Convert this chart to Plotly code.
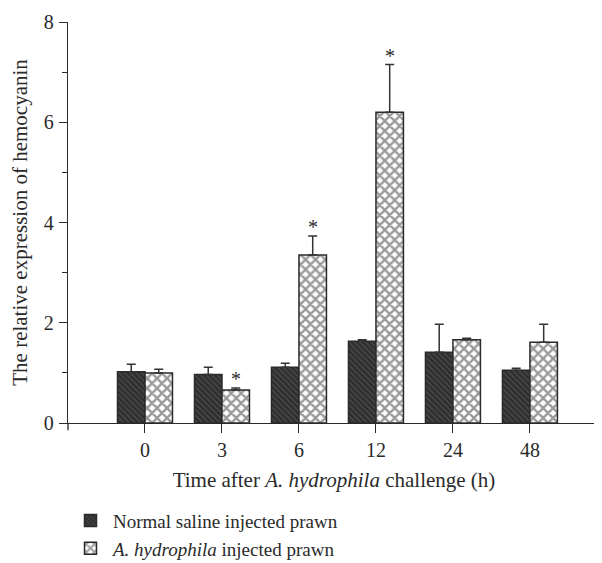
import plotly.graph_objects as go

times = ["0", "3", "6", "12", "24", "48"]
normal_vals = [1.02, 0.97, 1.11, 1.63, 1.41, 1.05]
normal_err = [0.15, 0.14, 0.08, 0.03, 0.56, 0.04]
hydro_vals = [1.00, 0.66, 3.35, 6.20, 1.66, 1.61]
hydro_err = [0.07, 0.04, 0.38, 0.95, 0.03, 0.36]
hydro_sig = [False, True, True, True, False, False]

FONT = "Liberation Serif"
INK = "#2a2a2a"

fig = go.Figure()
fig.add_trace(go.Bar(
    x=times, y=normal_vals, name="Normal saline injected prawn",
    marker=dict(color="#2e2e2e", line=dict(color=INK, width=1.5),
                pattern=dict(shape="\\", bgcolor="#2e2e2e", fgcolor="#6e6e6e",
                             size=4, solidity=0.3)),
    error_y=dict(type="data", array=normal_err, arrayminus=[0]*len(normal_err),
                 symmetric=False, color="#333", thickness=1.5, width=4.5),
))
fig.add_trace(go.Bar(
    x=times, y=hydro_vals, name="<i>A. hydrophila</i> injected prawn",
    marker=dict(color="white", line=dict(color=INK, width=1.5),
                pattern=dict(shape="x", bgcolor="white", fgcolor="#333333",
                             size=7, solidity=0.55)),
    error_y=dict(type="data", array=hydro_err, arrayminus=[0]*len(hydro_err),
                 symmetric=False, color="#333", thickness=1.5, width=4.5),
))

for i, (v, e, s) in enumerate(zip(hydro_vals, hydro_err, hydro_sig)):
    if s:
        fig.add_annotation(x=i, y=v + e, text="*", showarrow=False,
                           xshift=14, yshift=-4, yanchor="bottom",
                           font=dict(family=FONT, size=20, color=INK))

# small extension of the y axis line below zero
fig.add_shape(type="line", xref="paper", yref="paper", x0=0, x1=0, y0=0, y1=-0.018,
              line=dict(color=INK, width=1.3))

fig.update_layout(
    width=594, height=555,
    margin=dict(l=60, r=2, t=14, b=140, autoexpand=False),
    paper_bgcolor="white", plot_bgcolor="white",
    barmode="group", bargap=0.286, bargroupgap=0,
    font=dict(family=FONT, size=20, color=INK),
    showlegend=True,
    legend=dict(orientation="v", x=0, xanchor="left", y=-0.196, yanchor="top",
                font=dict(family=FONT, size=19, color=INK), tracegroupgap=0,
                itemwidth=35, bgcolor="rgba(0,0,0,0)"),
    xaxis=dict(type="category", range=[-1, 5.91], showline=True, linecolor=INK, linewidth=1.3,
               ticks="outside", ticklen=9, tickwidth=1.3, tickcolor=INK,
               showgrid=False, zeroline=False, automargin=False,
               tickfont=dict(family=FONT, size=20, color=INK),
               title=dict(text="Time after <i>A. hydrophila</i> challenge (h)",
                          font=dict(family=FONT, size=21, color=INK), standoff=12)),
    yaxis=dict(range=[0, 8], showline=True, linecolor=INK, linewidth=1.3,
               ticks="outside", ticklen=8, tickwidth=1.3, tickcolor=INK,
               tickvals=[0, 2, 4, 6, 8], showgrid=False, zeroline=False,
               automargin=False, ticklabelstandoff=1,
               minor=dict(tickvals=[1, 3, 5, 7], ticks="outside", ticklen=5,
                          tickwidth=1.3, tickcolor=INK, showgrid=False),
               tickfont=dict(family=FONT, size=20, color=INK),
               title=dict(text="The relative expression of hemocyanin",
                          font=dict(family=FONT, size=21, color=INK), standoff=12)),
)

try:
    fig.update_layout(legend_maxheight=200)
except Exception:
    pass

fig.write_html("out.html")
